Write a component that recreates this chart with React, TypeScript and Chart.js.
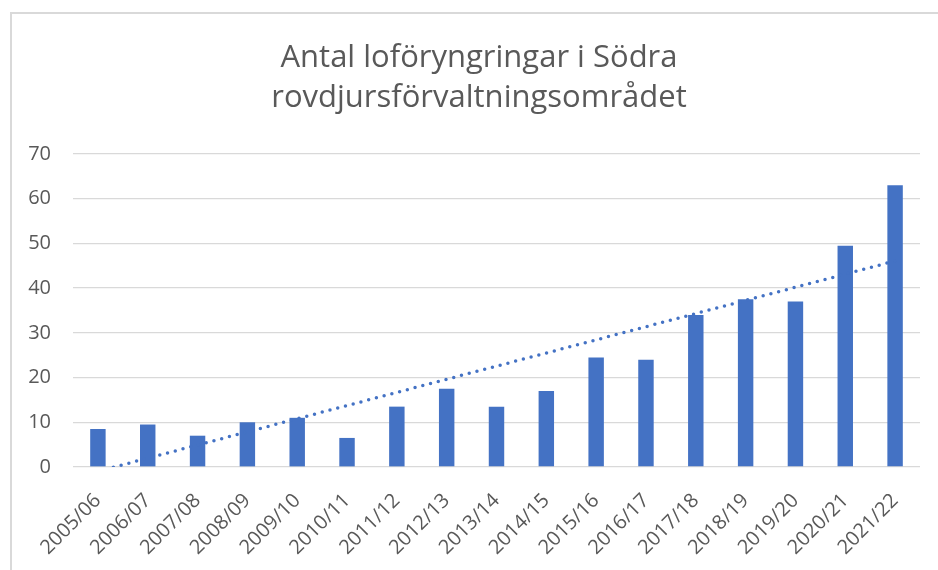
import React, { useEffect, useRef } from "react";
import { Chart, registerables } from "chart.js";

Chart.register(...registerables);

const categories = [
  "2005/06", "2006/07", "2007/08", "2008/09", "2009/10", "2010/11",
  "2011/12", "2012/13", "2013/14", "2014/15", "2015/16", "2016/17",
  "2017/18", "2018/19", "2019/20", "2020/21", "2021/22",
];
const counts = [8.5, 9.5, 7, 10, 11, 6.5, 13.5, 17.5, 13.5, 17, 24.5, 24, 34, 37.5, 37, 49.5, 63];
const titleLines = ["Antal loföryngringar i Södra", "rovdjursförvaltningsområdet"];
const yMin = 0;
const yMax = 70;
const yStep = 10;

// Linear trend (least squares) of counts, as in the spreadsheet trendline
function trend(values: number[]): (number | null)[] {
  const n = values.length;
  const xs = values.map((_, i) => i + 1);
  const mx = xs.reduce((a, b) => a + b, 0) / n;
  const my = values.reduce((a, b) => a + b, 0) / n;
  let sxy = 0, sxx = 0;
  for (let i = 0; i < n; i++) {
    sxy += (xs[i] - mx) * (values[i] - my);
    sxx += (xs[i] - mx) * (xs[i] - mx);
  }
  const slope = sxy / sxx;
  const b = my - slope * mx;
  return values.map((_, i) => (i === 0 || i === n - 1 ? b + slope * xs[i] : null));
}

export default function App() {
  const ref = useRef<HTMLCanvasElement | null>(null);
  useEffect(() => {
    if (!ref.current) return;
    const blue = "#4472C4";
    const text = "#595959";
    const chart = new Chart(ref.current, {
      type: "bar",
      data: {
        labels: categories,
        datasets: [
          {
            type: "line",
            data: trend(counts),
            borderColor: blue,
            borderWidth: 3.5,
            borderDash: [0, 8],
            borderCapStyle: "round",
            pointRadius: 0,
            spanGaps: true,
            fill: false,
            order: 0,
            clip: 0,
          } as any,
          {
            type: "bar",
            data: counts,
            backgroundColor: blue,
            barPercentage: 0.31,
            categoryPercentage: 1,
            order: 1,
          },
        ],
      },
      options: {
        responsive: false,
        animation: false,
        layout: { padding: { top: 154, right: 18, bottom: 0, left: 0 } },
        plugins: {
          legend: { display: false },
          tooltip: { enabled: false },
          title: { display: false },
        },
        scales: {
          x: {
            grid: { display: false },
            border: { display: false },
            ticks: {
              color: text,
              font: { family: "'Open Sans', sans-serif", size: 20 },
              minRotation: 45,
              maxRotation: 45,
              padding: 14,
            },
            afterFit: (s: any) => { s.height = 103; },
          },
          y: {
            min: yMin,
            max: yMax,
            grid: { color: "#d9d9d9", lineWidth: 1.3, drawTicks: false },
            border: { display: false },
            ticks: {
              stepSize: yStep,
              color: text,
              font: { family: "'Open Sans', sans-serif", size: 20 },
              padding: 22,
            },
            afterFit: (s: any) => { s.width = 73; },
          },
        },
      },
    });
    return () => chart.destroy();
  }, []);
  return (
    <div style={{ position: "fixed", left: 0, top: 0, width: 938, height: 570, background: "#fff", overflow: "hidden" }}>
      <div
        style={{
          position: "absolute",
          left: 10,
          top: 12,
          width: 940,
          height: 570,
          borderTop: "2px solid #d9d9d9",
          borderLeft: "2px solid #d9d9d9",
        }}
      />
      <canvas ref={ref} width={938} height={570} style={{ position: "absolute", left: 0, top: 0 }} />
      <div
        style={{
          position: "absolute",
          left: 0,
          top: 35,
          width: 958,
          textAlign: "center",
          fontFamily: "'Open Sans', sans-serif",
          fontSize: 31,
          lineHeight: "40.3px",
          color: "#595959",
        }}
      >
        {titleLines.map((t) => (
          <div key={t}>{t}</div>
        ))}
      </div>
    </div>
  );
}
